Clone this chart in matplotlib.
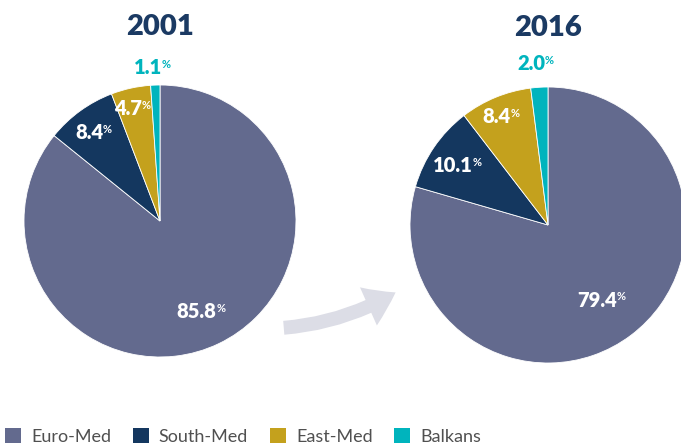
import numpy as np
import matplotlib
matplotlib.use("Agg")
from matplotlib import pyplot as plt
from matplotlib.patches import Patch, FancyArrowPatch

plt.rcParams['font.family'] = ['Lato', 'DejaVu Sans']

# datos
regiones = ['Euro-Med', 'South-Med', 'East-Med', 'Balkans']
anios = ['2001', '2016']
valores_2001 = [85.8, 8.4, 4.7, 1.1]
valores_2016 = [79.4, 10.1, 8.4, 2.0]
colores = ['#636a8e', '#14375f', '#c4a11d', '#00b4bd']

W, H = 681, 445
fig = plt.figure(figsize=(W / 100, H / 100), dpi=100)

def pie_axes(cx, cy, r):
    # cx, cy en pixeles desde arriba a la izquierda
    return fig.add_axes([(cx - r) / W, (H - cy - r) / H, 2 * r / W, 2 * r / H])

def dibujar_pie(ax, vals, titulo, radios):
    ax.pie(vals, colors=colores, startangle=90, counterclock=False,
           wedgeprops=dict(edgecolor='white', linewidth=0.6))
    ax.set_xlim(-1, 1)
    ax.set_ylim(-1, 1)
    ax.set_aspect('equal')
    ax.axis('off')
    total = sum(vals)
    acum = 0
    for i, v in enumerate(vals):
        mid = 90 - (acum + v / 2) / total * 360
        acum += v
        ang = np.deg2rad(mid)
        x, y = radios[i] * np.cos(ang), radios[i] * np.sin(ang)
        col = colores[3] if radios[i] > 1 else 'white'
        t = ax.text(x - 0.05, y, f'{v:.1f}', ha='center', va='center',
                    fontsize=14.5, fontweight='heavy', color=col, clip_on=False)
        ax.annotate('%', xy=(0.99, 0.95), xycoords=t, ha='left', va='top',
                    fontsize=8, fontweight='bold', color=col, annotation_clip=False)
    ax.text(0, 1.43, titulo, ha='center', va='center', fontsize=21,
            fontweight='heavy', color='#1b3a63', clip_on=False)

ax1 = pie_axes(160, 221, 136)
dibujar_pie(ax1, valores_2001, anios[0], [0.74, 0.80, 0.85, 1.13])

ax2 = pie_axes(548, 225, 138)
dibujar_pie(ax2, valores_2016, anios[1], [0.68, 0.77, 0.85, 1.17])

# flecha decorativa
flecha = FancyArrowPatch((281 / W, 1 - 328 / H), (398 / W, 1 - 291 / H),
                         transform=fig.transFigure,
                         connectionstyle='arc3,rad=0.12',
                         arrowstyle='simple,head_width=30,head_length=22,tail_width=10',
                         color='#dcdde6', lw=0, mutation_scale=1)
fig.patches.append(flecha)

# leyenda
handles = [Patch(facecolor=c, edgecolor='none') for c in colores]
fig.legend(handles, regiones, loc='lower left', bbox_to_anchor=(0.007, 0.0),
           ncol=4, frameon=False, handlelength=0.9, handleheight=0.9,
           handletextpad=0.55, columnspacing=1.2, borderpad=0, borderaxespad=0,
           prop=dict(family=['Lato', 'DejaVu Sans'], weight='normal', size=13),
           labelcolor='#505050')

fig.savefig('out.png', dpi=100)
